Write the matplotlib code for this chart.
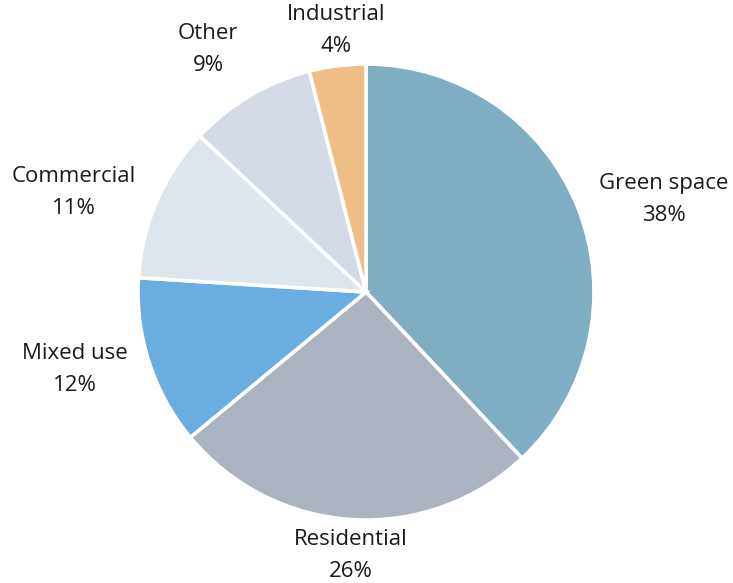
import numpy as np
import matplotlib
matplotlib.use("Agg")
import matplotlib.pyplot as plt

plt.rcParams['font.family'] = ['Open Sans', 'DejaVu Sans']

# land use shares (percent), clockwise from 12 o'clock
categories = ["Green space", "Residential", "Mixed use", "Commercial", "Other", "Industrial"]
shares = [38, 26, 12, 11, 9, 4]
colors = ["#7fadc3", "#aab3bf", "#6aade0", "#dde6ed", "#d3dae5", "#efbe86"]

W, H = 733, 583
R = 228  # pie radius in pixels
cx, cy = 366, 292  # pie centre in pixels (from top-left)

fig = plt.figure(figsize=(W / 100, H / 100), dpi=100)
ax = fig.add_axes([0, 0, 1, 1])
ax.pie(shares, colors=colors, startangle=90, counterclock=False, radius=1,
       wedgeprops=dict(edgecolor="white", linewidth=2.6))
ax.set_xlim(-cx / R, (W - cx) / R)
ax.set_ylim(-(H - cy) / R, cy / R)
ax.set_aspect("equal")
ax.axis("off")

# labels outside each wedge
total = sum(shares)
start = 90.0
for name, val in zip(categories, shares):
    span = 360.0 * val / total
    mid = np.deg2rad(start - span / 2)
    start -= span
    c, s = np.cos(mid), np.sin(mid)
    if c > 0.2:
        ha = "left"
    elif c < -0.2:
        ha = "right"
    else:
        ha = "center"
    if s > 0.7:
        va = "bottom"
    elif s < -0.7:
        va = "top"
    else:
        va = "center"
    d = 1.04 if ha == "center" else 1.10
    ax.text(d * c, d * s, f"{name}\n{val}%", ha=ha, va=va, multialignment="center",
            fontsize=16, color="#1a1a1a", linespacing=1.7)

fig.savefig("out.png", dpi=100)
